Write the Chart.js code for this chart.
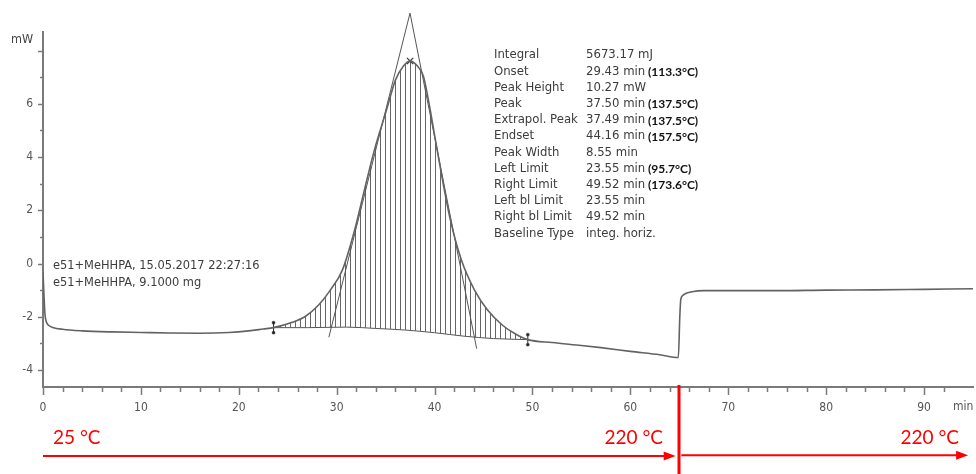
<!DOCTYPE html>
<html><head><meta charset="utf-8">
<script src="https://cdn.jsdelivr.net/npm/chart.js@4.4.0/dist/chart.umd.min.js"></script>
<style>html,body{margin:0;padding:0;background:#fff;}#wrap{width:976px;height:474px;}</style>
</head><body><div id="wrap"><canvas id="c" width="976" height="474"></canvas></div>
<script>
// ---- data ----
const curveTime = [0, 0.1, 0.2, 0.35, 0.6, 1, 2, 4, 7, 10, 13, 16, 19, 21, 22.5, 23.55, 25.47, 26.79, 28.13, 29.35, 30.58, 31.83, 32.83, 33.85, 35.08, 36.0, 36.82, 37.5, 38.25, 38.86, 39.37, 40.09, 40.81, 41.62, 42.75, 44.08, 45.41, 46.94, 48.27, 49.52, 52, 55, 57, 60, 63, 64.9, 65.05, 65.15, 65.35, 65.7, 66.3, 67.5, 70, 75, 80, 85, 90, 95];
const curveValue = [-0.3, -1.2, -1.9, -2.2, -2.33, -2.4, -2.47, -2.53, -2.57, -2.59, -2.61, -2.62, -2.59, -2.53, -2.46, -2.41, -2.21, -1.99, -1.57, -1.0, -0.25, 1.25, 2.76, 4.26, 5.76, 6.89, 7.42, 7.61, 7.42, 7.04, 6.14, 4.64, 3.14, 1.63, 0.12, -1.0, -1.75, -2.32, -2.65, -2.86, -2.97, -3.08, -3.16, -3.3, -3.43, -3.53, -2.0, -1.35, -1.2, -1.12, -1.06, -1.02, -1.02, -1.02, -1.0, -0.99, -0.97, -0.95];
const baselineTime = [23.55, 27, 31, 34, 37, 40, 43, 46, 49.52];
const baselineValue = [-2.41, -2.41, -2.39, -2.44, -2.5, -2.6, -2.73, -2.82, -2.86];
const tangentTime = [29.2, 37.49, 44.3];
const tangentValue = [-2.77, 9.41, -3.2];
const peakTime = [37.5];
const peakValue = [7.61];
const limitTime = [23.55, 49.52];
const limitValue = [-2.41, -2.86];
const stepTime = 65;
const segmentRanges = [[0, 64.63], [65.2, 94.5]];
const segmentTempStart = '25 °C';
const segmentTempEnd = ['220 °C', '220 °C'];
const xTickMajor = 10;
const xUnitLabel = 'min';
const xUnitAt = 94;
const yUnitLabel = 'mW';
const sampleInfo = ['e51+MeHHPA, 15.05.2017 22:27:16', 'e51+MeHHPA, 9.1000 mg'];
const resultLabels = ['Integral','Onset','Peak Height','Peak','Extrapol. Peak','Endset','Peak Width','Left Limit','Right Limit','Left bl Limit','Right bl Limit','Baseline Type'];
const resultValues = ['5673.17 mJ','29.43 min','10.27 mW','37.50 min','37.49 min','44.16 min','8.55 min','23.55 min','49.52 min','23.55 min','49.52 min','integ. horiz.'];
const resultTemps = ['','(113.3°C)','','(137.5°C)','(137.5°C)','(157.5°C)','','(95.7°C)','(173.6°C)','','',''];

// ---- build ----
const pts = (xs, ys) => xs.map((x, i) => ({x, y: ys[i]}));
const curvePts = pts(curveTime, curveValue);
const peakPts = curvePts.filter(p => p.x >= limitTime[0] && p.x <= limitTime[1]);

const pc = document.createElement('canvas'); pc.width = 5; pc.height = 4;
const pg = pc.getContext('2d'); pg.fillStyle = '#666'; pg.fillRect(0, 0, 1, 4);
const hatch = pg.createPattern(pc, 'repeat');

const mk = document.createElement('canvas'); mk.width = 7; mk.height = 15;
const mg = mk.getContext('2d'); mg.fillStyle = '#222';
mg.fillRect(3, 2, 1, 11);
mg.beginPath(); mg.arc(3.5, 2.5, 1.7, 0, 7); mg.fill();
mg.beginPath(); mg.arc(3.5, 12.5, 1.7, 0, 7); mg.fill();

const FONT = '"DejaVu Sans Condensed", "DejaVu Sans", sans-serif';

const deco = {
  id: 'deco',
  afterDraw(chart) {
    const ctx = chart.ctx, xs = chart.scales.x, ys = chart.scales.y, a = chart.chartArea;
    ctx.save();
    // ticks
    ctx.strokeStyle = '#7a7a7a'; ctx.lineWidth = 1.5;
    xs.ticks.forEach(t => {
      const px = Math.round(xs.getPixelForValue(t.value)) + 0.5;
      const len = t.value % xTickMajor === 0 ? 8 : 5;
      ctx.beginPath(); ctx.moveTo(px, a.bottom); ctx.lineTo(px, a.bottom + len); ctx.stroke();
    });
    ys.ticks.forEach(t => {
      const py = Math.round(ys.getPixelForValue(t.value)) + 0.5;
      const len = t.value % 2 === 0 ? 5 : 3;
      ctx.beginPath(); ctx.moveTo(a.left - len, py); ctx.lineTo(a.left, py); ctx.stroke();
    });
    // unit labels
    ctx.fillStyle = '#555'; ctx.font = '12px ' + FONT; ctx.textBaseline = 'middle';
    ctx.textAlign = 'center'; ctx.fillText(xUnitLabel, xs.getPixelForValue(xUnitAt), 407);
    ctx.fillStyle = '#444'; ctx.font = '12.5px ' + FONT;
    ctx.textAlign = 'right'; ctx.fillText(yUnitLabel, 33, 40);
    // sample info
    ctx.textAlign = 'left'; ctx.font = '12.7px ' + FONT; ctx.fillStyle = '#3c3c3c';
    sampleInfo.forEach((s, i) => ctx.fillText(s, 53, 266 + i * 16.5));
    // results table
    resultLabels.forEach((s, i) => {
      const y = 55 + i * 16.2;
      ctx.font = '13px ' + FONT; ctx.fillStyle = '#3c3c3c';
      ctx.fillText(s, 494, y);
      ctx.fillText(resultValues[i], 586, y);
      if (resultTemps[i]) {
        const w = ctx.measureText(resultValues[i] + ' ').width;
        ctx.font = 'bold 12px Lato, "Open Sans", sans-serif'; ctx.fillStyle = '#111';
        ctx.fillText(resultTemps[i], 586 + w - 1, y + 1);
      }
    });
    // red annotations
    ctx.strokeStyle = '#ff0000'; ctx.fillStyle = '#ff0000';
    const sx = Math.round(xs.getPixelForValue(stepTime));
    ctx.lineWidth = 3;
    ctx.beginPath(); ctx.moveTo(sx, a.bottom - 2); ctx.lineTo(sx, chart.height); ctx.stroke();
    ctx.lineWidth = 2;
    segmentRanges.forEach((r, i) => {
      const x0 = xs.getPixelForValue(r[0]), x1 = xs.getPixelForValue(r[1]);
      const y = 456 - i * 0.7;
      ctx.beginPath(); ctx.moveTo(x0, y); ctx.lineTo(x1 - 10, y); ctx.stroke();
      ctx.beginPath(); ctx.moveTo(x1, y); ctx.lineTo(x1 - 12, y - 4.5); ctx.lineTo(x1 - 12, y + 4.5); ctx.closePath(); ctx.fill();
    });
    ctx.font = '19px Lato, "Open Sans", sans-serif'; ctx.textBaseline = 'alphabetic';
    ctx.textAlign = 'left'; ctx.fillText(segmentTempStart, 53, 444);
    ctx.textAlign = 'right';
    ctx.fillText(segmentTempEnd[0], 663, 444);
    ctx.fillText(segmentTempEnd[1], 959, 444);
    ctx.restore();
  }
};

new Chart(document.getElementById('c'), {
  type: 'line',
  data: {
    datasets: [
      {data: curvePts, borderColor: '#636363', borderWidth: 1.6, pointRadius: 0, cubicInterpolationMode: 'monotone', fill: false},
      {data: pts(tangentTime, tangentValue), borderColor: '#555', borderWidth: 1, pointRadius: 0, tension: 0, fill: false, clip: false},
      {data: pts(peakTime, peakValue), showLine: false, pointStyle: 'crossRot', pointRadius: 4.5, borderColor: '#333', borderWidth: 1.2},
      {data: pts(limitTime, limitValue), showLine: false, pointStyle: mk, pointRadius: 7},
      {data: peakPts, borderWidth: 0, borderColor: 'rgba(0,0,0,0)', pointRadius: 0, cubicInterpolationMode: 'monotone', backgroundColor: hatch, fill: {target: 5, above: hatch, below: hatch}},
      {data: pts(baselineTime, baselineValue), borderColor: '#555', borderWidth: 1, pointRadius: 0, cubicInterpolationMode: 'monotone', fill: false}
    ]
  },
  options: {
    responsive: false, animation: false, devicePixelRatio: 1,
    layout: {autoPadding: false, padding: {top: 32, right: 3, left: 0, bottom: 0}},
    plugins: {legend: {display: false}, tooltip: {enabled: false}},
    events: [],
    scales: {
      x: {
        type: 'linear', min: 0, max: 95,
        afterFit: s => { s.height = 87; s.paddingRight = 0; s.paddingLeft = 0; },
        afterBuildTicks: s => { s.ticks = s.ticks.filter(t => Number.isInteger(t.value) && t.value % 2 === 0); },
        ticks: {stepSize: 2, autoSkip: false, maxRotation: 0, padding: 9, color: '#555', font: {family: FONT, size: 12},
          callback: v => v % xTickMajor === 0 ? String(v) : ''},
        grid: {drawOnChartArea: false, tickLength: 5, tickColor: 'rgba(0,0,0,0)'},
        border: {color: '#7a7a7a', width: 2}
      },
      y: {
        type: 'linear', min: -4.64, max: 8.7,
        afterFit: s => { s.width = 43; },
        afterBuildTicks: s => { s.ticks = s.ticks.filter(t => Number.isInteger(t.value)); },
        ticks: {stepSize: 1, autoSkip: false, padding: 5, color: '#555', font: {family: FONT, size: 12},
          callback: v => (v % 2 === 0 && v < 8) ? String(v) : ''},
        grid: {drawOnChartArea: false, tickLength: 5, tickColor: 'rgba(0,0,0,0)'},
        border: {color: '#7a7a7a', width: 2}
      }
    }
  },
  plugins: [deco]
});
</script></body></html>
